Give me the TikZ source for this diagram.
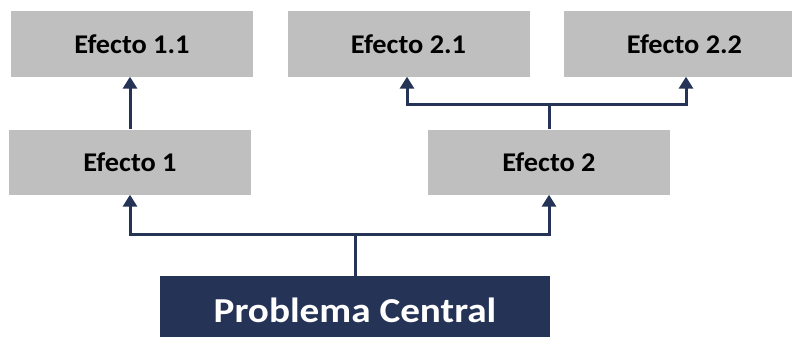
\documentclass[tikz,border=0pt]{standalone}
\usepackage{fontspec}
\setmainfont{Carlito}
\newfontfamily\effectfont[FakeStretch=1.05]{Carlito}
\newfontfamily\corefont[FakeStretch=1.12]{Carlito}
\usetikzlibrary{arrows.meta}
\definecolor{boxgray}{HTML}{BFBFBF}
\definecolor{navy}{HTML}{253356}
\begin{document}
\begin{tikzpicture}[x=1pt,y=-1pt,
  effect/.style={fill=boxgray, draw=none, minimum width=242pt, minimum height=65pt,
    inner sep=0pt, font=\effectfont\fontsize{27}{30}\selectfont\bfseries, text=black},
  core/.style={fill=navy, draw=none, minimum width=390pt, minimum height=68pt,
    inner sep=0pt, font=\corefont\fontsize{35}{40}\selectfont\bfseries, text=white},
  link/.style={draw=navy, line width=3pt},
  arr/.style={link, -{Triangle[length=12pt,width=14pt]}}]
\useasboundingbox (0,0) rectangle (792,337);
\clip (0,0) rectangle (792,337);
% effect boxes
\node[effect] (e11) at (132,44) {Efecto 1.1};
\node[effect] (e21) at (408.5,44) {Efecto 2.1};
\node[effect] (e22) at (684.5,44) {Efecto 2.2};
\node[effect] (e1) at (130,162) {Efecto 1};
\node[effect] (e2) at (549,162) {Efecto 2};
% central problem
\node[core] (pc) at (355,310) {Problema Central};
% branch points
\coordinate (j2) at (549,104);
\coordinate (jc) at (355,234);
% connectors
\draw[arr] (e1.north) -- (e1.north |- e11.south);
\draw[link] (e2.north) -- (j2);
\draw[arr] (j2) -| ([xshift=-1.5pt]e21.south);
\draw[arr] (j2) -| ([xshift=1.5pt]e22.south);
\draw[link] (pc.north) -- (jc);
\draw[arr] (jc) -| (e1.south);
\draw[arr] (jc) -| (e2.south);
\end{tikzpicture}
\end{document}
